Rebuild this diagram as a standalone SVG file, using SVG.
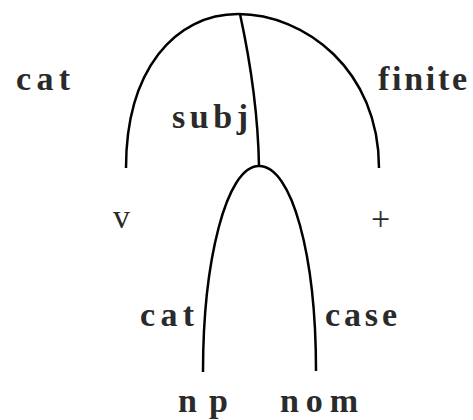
<svg xmlns="http://www.w3.org/2000/svg" width="473" height="420" viewBox="0 0 473 420">
<style>
.t{font-family:"Liberation Serif","Times New Roman",serif;font-size:34px;font-weight:bold;fill:#2a2a2a}
.n{font-weight:normal}
.e{fill:none;stroke:#000;stroke-width:2.5;stroke-linecap:butt}
</style>
<rect width="473" height="420" fill="#fff"/>
<g id="connectors">
<path class="e" d="M126,168 C126,70 175,14 238,14 C305,14 379,70 379,168"/>
<path class="e" d="M240,14 C250,60 258,110 259,166"/>
<path class="e" d="M203,372 C203,262 226,166 259,166 C292,166 316,255 316,371"/>
</g>
<g id="n-cat-top"><text class="t" x="16" y="90" textLength="54" lengthAdjust="spacing">cat</text></g>
<g id="n-finite"><text class="t" x="378" y="90" textLength="89" lengthAdjust="spacing">finite</text></g>
<g id="n-subj"><text class="t" x="172" y="128" textLength="76" lengthAdjust="spacing">subj</text></g>
<g id="n-v"><text class="t n" x="113" y="228" textLength="20" lengthAdjust="spacing">v</text></g>
<g id="n-plus"><text class="t n" x="371" y="230" textLength="21" lengthAdjust="spacing">+</text></g>
<g id="n-cat-low"><text class="t" x="140" y="326" textLength="54" lengthAdjust="spacing">cat</text></g>
<g id="n-case"><text class="t" x="325" y="326" textLength="72" lengthAdjust="spacing">case</text></g>
<g id="n-np"><text class="t" x="178" y="412" textLength="50" lengthAdjust="spacing">np</text></g>
<g id="n-nom"><text class="t" x="280" y="412" textLength="78" lengthAdjust="spacing">nom</text></g>
</svg>
